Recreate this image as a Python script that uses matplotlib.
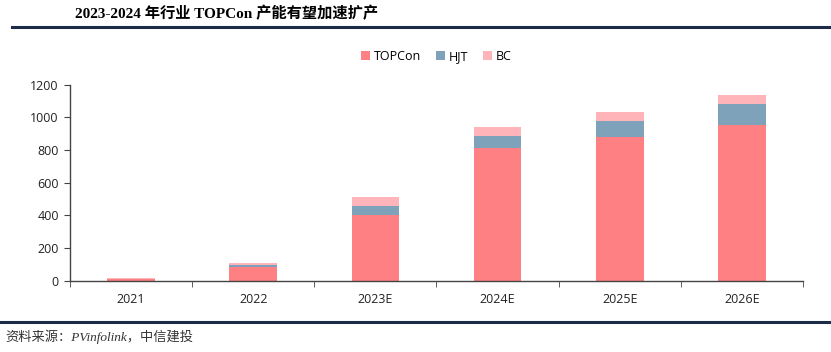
import numpy as np
import matplotlib
matplotlib.use("Agg")
import matplotlib.pyplot as plt
from matplotlib.lines import Line2D

# -------------------------------
# Dati (GW)
# -------------------------------
years = ["2021", "2022", "2023E", "2024E", "2025E", "2026E"]
topcon = [8, 85, 405, 810, 880, 955]
hjt = [4, 10, 50, 75, 100, 125]
bc = [4, 12, 55, 55, 55, 58]

title = "2023-2024 年行业 TOPCon 产能有望加速扩产"
source = "资料来源：PVinfolink，中信建投"

c_topcon = "#fe8082"
c_hjt = "#7ea2ba"
c_bc = "#feb4b8"

plt.rcParams["font.family"] = ["Open Sans", "Noto Sans CJK SC"]

fig = plt.figure(figsize=(8.31, 3.52), dpi=100)
ax = fig.add_axes([0.0842, 0.2026, 0.8821, 0.5568])

x = np.arange(len(years))
w = 0.39
ax.bar(x, topcon, w, color=c_topcon, label="TOPCon")
ax.bar(x, hjt, w, bottom=topcon, color=c_hjt, label="HJT")
ax.bar(x, bc, w, bottom=np.array(topcon) + np.array(hjt), color=c_bc, label="BC")

ax.set_xlim(-0.5, len(years) - 0.5)
ax.set_ylim(0, 1200)
ax.set_yticks(range(0, 1201, 200))
ax.set_xticks(x)
ax.set_xticklabels(years)
ax.set_xticks(np.arange(-0.5, len(years), 1), minor=True)
ax.tick_params(axis="x", which="major", length=0, pad=9, labelsize=9, colors="#222222")
ax.tick_params(axis="x", which="minor", length=4, direction="out", color="#444444")
ax.tick_params(axis="y", length=4, direction="out", pad=4, labelsize=9, colors="#222222")
ax.tick_params(axis="y", color="#444444")

for s in ["top", "right"]:
    ax.spines[s].set_visible(False)
for s in ["left", "bottom"]:
    ax.spines[s].set_color("#444444")
    ax.spines[s].set_linewidth(1.0)

leg = ax.legend(loc="lower center", bbox_to_anchor=(0.5, 1.055), ncol=3, frameon=False,
                fontsize=9, handlelength=0.7, handleheight=0.7, handletextpad=0.3,
                columnspacing=1.2)

# titolo e linee
fig.text(0.09, 0.963, title, fontsize=11, fontweight="bold",
         family=["Liberation Serif", "Noto Sans CJK SC"], va="center", ha="left")
fig.add_artist(Line2D([0.015, 1.0], [0.923, 0.923], color="#1c2c48", lw=2.2))
fig.add_artist(Line2D([0.0, 1.0], [0.085, 0.085], color="#1c2c48", lw=2.2))
fig.text(0.006, 0.042, source, fontsize=9.5, style="italic",
         family=["Liberation Serif", "Noto Sans CJK SC"], va="center", ha="left", color="#333333")

fig.savefig("out.png", dpi=100)
